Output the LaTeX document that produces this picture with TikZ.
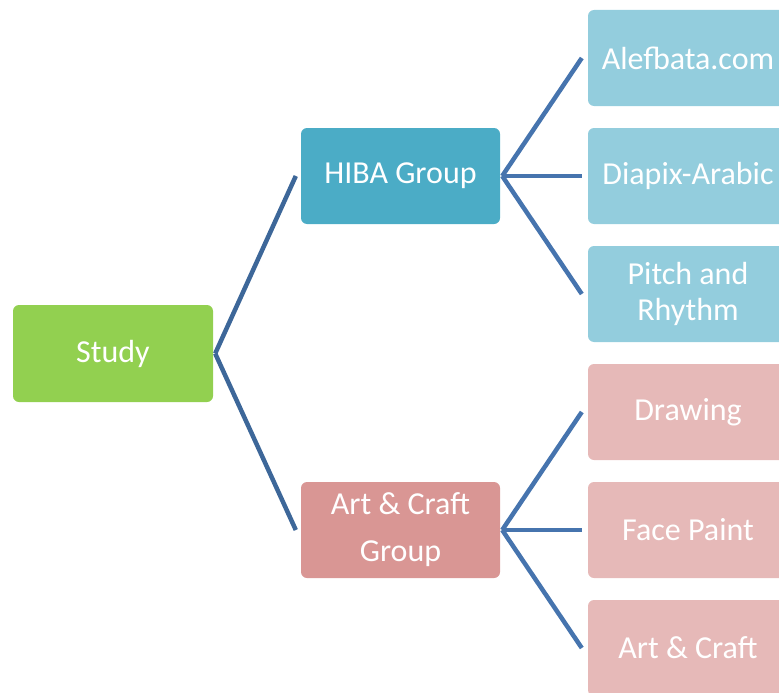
\documentclass[tikz,border=0pt]{standalone}
\usepackage{fontspec}
\setmainfont{Carlito}
\usetikzlibrary{calc}
\definecolor{studyc}{HTML}{92D050}
\definecolor{hibac}{HTML}{4BACC6}
\definecolor{artc}{HTML}{D99694}
\definecolor{hibal}{HTML}{93CDDD}
\definecolor{artl}{HTML}{E6B9B8}
\definecolor{linea}{HTML}{3D6799}
\definecolor{lineb}{HTML}{4674AE}
\tikzset{
  box/.style={rectangle, rounded corners=6pt, minimum width=200pt, minimum height=96pt,
    text=white, font=\fontsize{32}{36}\selectfont, align=center, inner sep=0pt},
  conn/.style={line width=4.5pt},
}
\begin{document}
\begin{tikzpicture}[x=1pt,y=-1pt]
\useasboundingbox (0,0) rectangle (779,693);
\clip (0,0) rectangle (779,693);
\node[box, fill=studyc, minimum width=200pt, minimum height=97pt] (study) at (113,353.5) {Study};
\node[box, fill=hibac, minimum width=199pt] (hiba) at (400.5,176) {HIBA Group};
\node[box, fill=artc, minimum width=199pt, font=\fontsize{32}{47}\selectfont] (art) at (400.5,530) {Art \& Craft\\Group};
\node[box, fill=hibal] (c1) at (688,58) {Alefbata.com};
\node[box, fill=hibal] (c2) at (688,176) {Diapix-Arabic};
\node[box, fill=hibal] (c3) at (688,294) {Pitch and\\Rhythm};
\node[box, fill=artl] (c4) at (688,412) {Drawing};
\node[box, fill=artl] (c5) at (688,530) {Face Paint};
\node[box, fill=artl] (c6) at (688,648) {Art \& Craft};
\foreach \t in {hiba,art}
  \draw[conn, draw=linea] ($(study.east)+(2,0)$) -- ($(\t.west)+(-5,0)$);
\foreach \t in {c1,c2,c3}
  \draw[conn, draw=lineb] ($(hiba.east)+(2,0)$) -- ($(\t.west)+(-6,0)$);
\foreach \t in {c4,c5,c6}
  \draw[conn, draw=lineb] ($(art.east)+(2,0)$) -- ($(\t.west)+(-6,0)$);
\end{tikzpicture}
\end{document}
